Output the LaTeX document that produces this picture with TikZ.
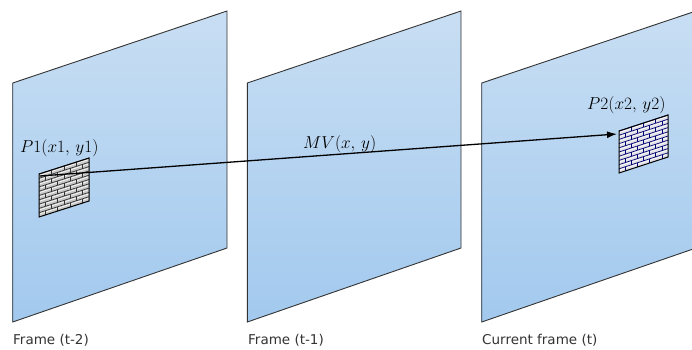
\documentclass[tikz,border=0pt]{standalone}
\usepackage{fontspec}
\newfontfamily\labfont{DejaVu Sans}
\usetikzlibrary{arrows.meta}
\tikzset{
  framefill/.style={draw=black!80, line width=0.9pt, top color={rgb,255:red,200;green,222;blue,243}, bottom color={rgb,255:red,162;green,201;blue,238}},
  framelab/.style={font=\labfont\fontsize{13.5}{15}\selectfont, text=black!80, anchor=base west, inner sep=0pt},
  ptlab/.style={font=\fontsize{18}{20}\selectfont, anchor=base west, inner sep=0pt},
  mvarrow/.style={line width=1.3pt, -{Latex[length=10pt,width=7pt]}}
}
\newcommand{\brickwall}[4]{% #1 fill, #2 line colour, #3 mortar, #4 rows
  \fill[#1] (0,0) -- (1,0) -- (1,1) -- (0,1) -- cycle;
  \pgfmathtruncatemacro{\nr}{#4-1}
  \foreach \r in {0,...,\nr}{
    \pgfmathsetmacro{\ya}{\r/#4}
    \pgfmathsetmacro{\yb}{(\r+1)/#4}
    \draw[#3, line width=0.6pt] (0.02,\ya+0.035) -- (0.98,\ya+0.035);
    \draw[#2, line width=0.7pt] (0,\ya) -- (1,\ya);
    \ifodd\r
      \foreach \c in {0.125,0.375,0.625,0.875}{\draw[#2, line width=0.7pt] (\c,\ya) -- (\c,\yb);}
    \else
      \foreach \c in {0.25,0.5,0.75}{\draw[#2, line width=0.7pt] (\c,\ya) -- (\c,\yb);}
    \fi
  }
  \draw[black, line width=1pt] (0,0) -- (1,0) -- (1,1) -- (0,1) -- cycle;
}
\begin{document}
\begin{tikzpicture}[x=1pt,y=-1pt]
\clip (0,0) rectangle (692,349);
\fill[white] (0,0) rectangle (692,349);
% frames
\path[framefill] (12.7,83) -- (227,11) -- (227,248) -- (12.7,322) -- cycle;
\path[framefill] (247.3,83) -- (461,11) -- (461,248) -- (247.3,322) -- cycle;
\path[framefill] (481.7,83) -- (696,11) -- (696,248) -- (481.7,322) -- cycle;
% brick patch 1
\begin{scope}[shift={(39,174)}, x={(50pt,16pt)}, y={(0pt,-43pt)}]
  \brickwall{black!22}{black!80}{white}{10}
\end{scope}
% brick patch 2
\begin{scope}[shift={(619,131)}, x={(49pt,16pt)}, y={(0pt,-42pt)}]
  \brickwall{blue!18!black!12}{blue!45!black}{white}{10}
\end{scope}
% points
\coordinate (p1) at (40,176);
\coordinate (p2) at (617,134);
\draw[mvarrow] (p1) -- (p2);
% labels
\node[ptlab] (l1) at (20,152) {$P1(x1,\,y1)$};
\node[ptlab] (l2) at (587,109) {$P2(x2,\,y2)$};
\node[ptlab] (mv) at (303,148) {$MV(x,\,y)$};
\node[framelab] (f1) at (13,344) {Frame (t-2)};
\node[framelab] (f2) at (248,344) {Frame (t-1)};
\node[framelab] (f3) at (482,344) {Current frame (t)};
\end{tikzpicture}
\end{document}
